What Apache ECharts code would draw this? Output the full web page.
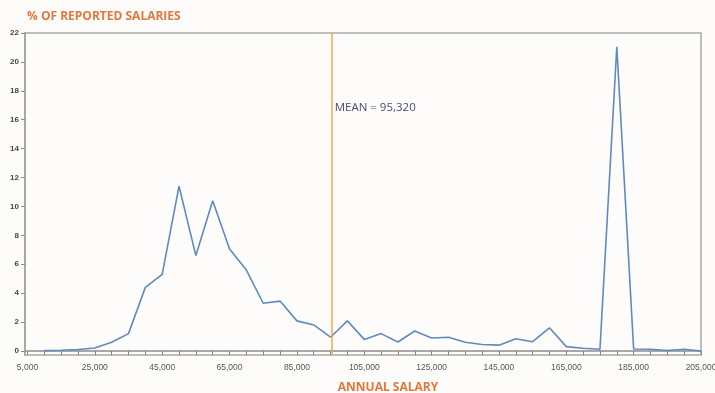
<!DOCTYPE html>
<html>
<head>
<meta charset="utf-8">
<script src="https://cdn.jsdelivr.net/npm/echarts@6/dist/echarts.min.js"></script>
<style>
  html, body { margin: 0; padding: 0; background: #fdfcfa; }
  #main { width: 715px; height: 393px; }
</style>
</head>
<body>
<div id="main"></div>
<script>
// salary buckets (every 5,000) and % of reported salaries
const salaries = [10000, 15000, 20000, 25000, 30000, 35000, 40000, 45000, 50000, 55000,
  60000, 65000, 70000, 75000, 80000, 85000, 90000, 95000, 100000, 105000,
  110000, 115000, 120000, 125000, 130000, 135000, 140000, 145000, 150000, 155000,
  160000, 165000, 170000, 175000, 180000, 185000, 190000, 195000, 200000, 205000];
const percents = [0.02, 0.05, 0.1, 0.2, 0.6, 1.2, 4.4, 5.3, 11.4, 6.6,
  10.4, 7.05, 5.6, 3.3, 3.45, 2.08, 1.8, 0.95, 2.08, 0.8,
  1.2, 0.62, 1.38, 0.9, 0.95, 0.6, 0.45, 0.4, 0.85, 0.64,
  1.6, 0.3, 0.19, 0.12, 21.05, 0.14, 0.12, 0.03, 0.12, 0.0];
const xTickLabels = [5000, 25000, 45000, 65000, 85000, 105000, 125000, 145000, 165000, 185000, 205000];
const xTicks = [];
for (let v = 5000; v <= 205000; v += 5000) xTicks.push(v);
const yTicks = [0, 2, 4, 6, 8, 10, 12, 14, 16, 18, 20, 22];
const meanSalary = 95320;

const chart = echarts.init(document.getElementById('main'));

const axisGray = '#a8a8a8';
const fmt = v => v.toLocaleString('en-US');

const option = {
  backgroundColor: '#fdfcfa',
  animation: false,
  title: {
    text: '% OF REPORTED SALARIES',
    left: 22,
    top: 6,
    textStyle: { color: '#e2783a', fontSize: 12, fontWeight: 'bold', fontFamily: 'Open Sans' }
  },
  grid: {
    left: 25, right: 14, top: 33, bottom: 38,
    outerBoundsMode: 'none',
    containLabel: false,
    show: true, borderColor: axisGray, borderWidth: 1.5, backgroundColor: 'transparent'
  },
  xAxis: {
    type: 'value',
    min: 4260,
    max: 205000,
    name: 'ANNUAL SALARY',
    nameLocation: 'middle',
    nameGap: 27,
    nameTextStyle: { color: '#e2783a', fontSize: 12, fontWeight: 'bold', fontFamily: 'Open Sans', padding: [0, 0, 0, 50] },
    splitLine: { show: false },
    axisLine: { lineStyle: { color: axisGray, width: 2 } },
    axisTick: { customValues: xTicks, length: 4, lineStyle: { color: '#888' } },
    axisLabel: {
      customValues: xTickLabels,
      formatter: fmt,
      color: '#555',
      fontSize: 8.5,
      fontFamily: 'Arial',
      margin: 8
    }
  },
  yAxis: {
    type: 'value',
    min: -0.28,
    max: 22,
    splitLine: { show: false },
    axisLine: { show: true, lineStyle: { color: axisGray, width: 2 } },
    axisTick: { show: true, customValues: yTicks, length: 4, lineStyle: { color: '#888' } },
    axisLabel: {
      customValues: yTicks,
      color: '#444',
      fontSize: 8,
      fontWeight: 'bold',
      fontFamily: 'Arial',
      margin: 6
    }
  },
  series: [
    {
      type: 'line',
      data: salaries.map((s, i) => [s, percents[i]]),
      showSymbol: false,
      lineStyle: { color: '#5f8ac0', width: 1.6 },
      markLine: {
        silent: true,
        symbol: 'none',
        label: { show: false },
        lineStyle: { color: '#f5a74a', width: 1.5, type: 'solid' },
        data: [{ xAxis: meanSalary }]
      },
      markPoint: {
        silent: true,
        symbol: 'circle',
        symbolSize: 0,
        data: [{ coord: [meanSalary, 16.8] }],
        label: {
          show: true,
          position: 'right',
          distance: 3,
          formatter: 'MEAN = ' + fmt(meanSalary),
          color: '#4a4a78',
          fontSize: 11.5,
          fontFamily: 'Open Sans'
        }
      }
    }
  ]
};

chart.setOption(option);
</script>
</body>
</html>
